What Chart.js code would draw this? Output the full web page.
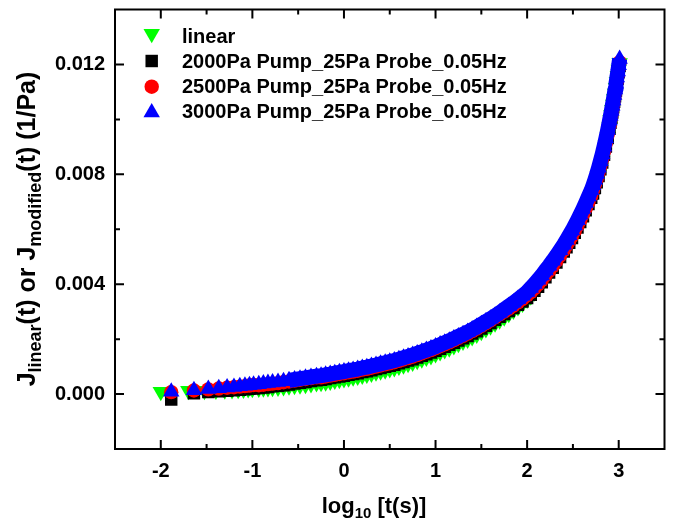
<!DOCTYPE html>
<html>
<head>
<meta charset="utf-8">
<script src="https://cdn.jsdelivr.net/npm/chart.js@4.4.0/dist/chart.umd.min.js"></script>
<style>
  html, body { margin: 0; padding: 0; background: #fff; }
</style>
</head>
<body>
<canvas id="creepChart" width="674" height="524"></canvas>
<script>
// log10(t) positions
const xModified = [-1.886, -1.638, -1.481, -1.367, -1.276, -1.201, -1.137, -1.081, -1.032, -0.987,
  -0.93, -0.88, -0.83, -0.78, -0.72, -0.66, -0.6, -0.54, -0.48, -0.42, -0.36, -0.3,
  -0.25, -0.2, -0.15, -0.1, -0.05, 0, 0.05, 0.1, 0.15, 0.2, 0.25, 0.3, 0.35, 0.4, 0.45, 0.5,
  0.55, 0.6, 0.65, 0.7, 0.75, 0.8, 0.85, 0.9, 0.95, 1.0, 1.05, 1.1, 1.15, 1.2, 1.25, 1.3,
  1.35, 1.4, 1.45, 1.5, 1.55, 1.6, 1.65, 1.7, 1.75, 1.8, 1.85, 1.9, 1.95, 2.0,
  2.04, 2.08, 2.12, 2.16, 2.2, 2.24, 2.28, 2.32, 2.36, 2.4,
  2.43, 2.46, 2.49, 2.52, 2.55, 2.58, 2.61, 2.64, 2.67, 2.7,
  2.72, 2.74, 2.76, 2.78, 2.8, 2.82, 2.84, 2.86, 2.88, 2.9,
  2.91, 2.92, 2.93, 2.94, 2.95, 2.96, 2.97, 2.98, 2.99, 3.0, 3.01];
const xLinear = [-2.0, -1.699, -1.523, -1.398, -1.301, -1.222, -1.155, -1.097, -1.046, -1.0,
  -0.93, -0.88, -0.83, -0.78, -0.72, -0.66, -0.6, -0.54, -0.48, -0.42, -0.36, -0.3,
  -0.25, -0.2, -0.15, -0.1, -0.05, 0, 0.05, 0.1, 0.15, 0.2, 0.25, 0.3, 0.35, 0.4, 0.45, 0.5,
  0.55, 0.6, 0.65, 0.7, 0.75, 0.8, 0.85, 0.9, 0.95, 1.0, 1.05, 1.1, 1.15, 1.2, 1.25, 1.3,
  1.35, 1.4, 1.45, 1.5, 1.55, 1.6, 1.65, 1.7, 1.75, 1.8, 1.85, 1.9, 1.95, 2.0,
  2.04, 2.08, 2.12, 2.16, 2.2, 2.24, 2.28, 2.32, 2.36, 2.4,
  2.43, 2.46, 2.49, 2.52, 2.55, 2.58, 2.61, 2.64, 2.67, 2.7,
  2.72, 2.74, 2.76, 2.78, 2.8, 2.82, 2.84, 2.86, 2.88, 2.9,
  2.91, 2.92, 2.93, 2.94, 2.95, 2.96, 2.97, 2.98, 2.99, 3.0, 3.01];

// compliance J(t), 1/Pa
const jLinear = [0.00008, 0.00012, 0.00012, 0.00013, 0.00014, 0.00015, 0.00016, 0.00017, 0.00018, 0.00019,
  0.00020, 0.00021, 0.00022, 0.00023, 0.00024, 0.00026, 0.00028, 0.00030, 0.00032, 0.00034, 0.00037, 0.00040,
  0.00041, 0.00043, 0.00046, 0.00049, 0.00052, 0.00055, 0.00058, 0.00061, 0.00064, 0.00068, 0.00071, 0.00075,
  0.00079, 0.00083, 0.00087, 0.00091, 0.00095, 0.00100, 0.00105, 0.00110, 0.00115, 0.00121, 0.00127, 0.00133,
  0.00139, 0.00146, 0.00153, 0.00160, 0.00167, 0.00175, 0.00183, 0.00191, 0.00199, 0.00208, 0.00217, 0.00227,
  0.00237, 0.00247, 0.00258, 0.00269, 0.00280, 0.00292, 0.00304, 0.00317, 0.00330, 0.00344,
  0.00356, 0.00371, 0.00386, 0.00402, 0.00420, 0.00437, 0.00455, 0.00474, 0.00494, 0.00514,
  0.00529, 0.00546, 0.00563, 0.00582, 0.00601, 0.00621, 0.00642, 0.00664, 0.00687, 0.00710,
  0.00735, 0.00755, 0.00776, 0.00799, 0.00823, 0.00848, 0.00876, 0.00906, 0.00937, 0.00971,
  0.00998, 0.01016, 0.01035, 0.01054, 0.01074, 0.01094, 0.01115, 0.01137, 0.01159, 0.01182, 0.01205];
const j2000 = [-0.00020, 0.00003, 0.00007, 0.00010, 0.00012, 0.00014, 0.00016, 0.00017, 0.00019, 0.00020,
  0.00022, 0.00024, 0.00026, 0.00028, 0.00030, 0.00032, 0.00035, 0.00038, 0.00041, 0.00044, 0.00047, 0.00050,
  0.00052, 0.00055, 0.00058, 0.00061, 0.00064, 0.00067, 0.00070, 0.00073, 0.00076, 0.00080, 0.00083, 0.00087,
  0.00091, 0.00095, 0.00099, 0.00103, 0.00107, 0.00112, 0.00117, 0.00122, 0.00127, 0.00133, 0.00139, 0.00145,
  0.00151, 0.00158, 0.00165, 0.00172, 0.00179, 0.00187, 0.00195, 0.00203, 0.00211, 0.00220, 0.00229, 0.00239,
  0.00249, 0.00259, 0.00270, 0.00281, 0.00291, 0.00302, 0.00313, 0.00325, 0.00337, 0.00350,
  0.00361, 0.00376, 0.00391, 0.00407, 0.00425, 0.00442, 0.00460, 0.00479, 0.00499, 0.00519,
  0.00534, 0.00551, 0.00568, 0.00587, 0.00606, 0.00626, 0.00647, 0.00669, 0.00692, 0.00715,
  0.00730, 0.00750, 0.00771, 0.00794, 0.00818, 0.00843, 0.00871, 0.00901, 0.00932, 0.00966,
  0.00988, 0.01006, 0.01025, 0.01044, 0.01064, 0.01084, 0.01105, 0.01127, 0.01149, 0.01172, 0.01195];
const j2500 = [0.00007, 0.00013, 0.00017, 0.00020, 0.00023, 0.00025, 0.00027, 0.00029, 0.00031, 0.00033,
  0.00032, 0.00034, 0.00036, 0.00038, 0.00040, 0.00043, 0.00046, 0.00049, 0.00052, 0.00055, 0.00058, 0.00061,
  0.00061, 0.00064, 0.00067, 0.00070, 0.00073, 0.00076, 0.00079, 0.00082, 0.00085, 0.00089, 0.00092, 0.00096,
  0.00100, 0.00104, 0.00108, 0.00112, 0.00116, 0.00121, 0.00126, 0.00131, 0.00136, 0.00142, 0.00148, 0.00154,
  0.00160, 0.00167, 0.00174, 0.00181, 0.00188, 0.00196, 0.00204, 0.00212, 0.00220, 0.00229, 0.00238, 0.00248,
  0.00258, 0.00268, 0.00279, 0.00290, 0.00300, 0.00311, 0.00322, 0.00334, 0.00346, 0.00360,
  0.00371, 0.00385, 0.00399, 0.00415, 0.00432, 0.00448, 0.00466, 0.00485, 0.00504, 0.00524,
  0.00541, 0.00558, 0.00575, 0.00594, 0.00613, 0.00633, 0.00654, 0.00676, 0.00699, 0.00722,
  0.00743, 0.00763, 0.00784, 0.00807, 0.00831, 0.00856, 0.00884, 0.00914, 0.00945, 0.00979,
  0.01001, 0.01019, 0.01038, 0.01057, 0.01077, 0.01097, 0.01118, 0.01140, 0.01162, 0.01185, 0.01208];
const j3000 = [0.00008, 0.00014, 0.00018, 0.00021, 0.00024, 0.00026, 0.00028, 0.00030, 0.00032, 0.00034,
  0.00036, 0.00038, 0.00040, 0.00042, 0.00044, 0.00047, 0.00050, 0.00053, 0.00056, 0.00059, 0.00062, 0.00065,
  0.00067, 0.00070, 0.00073, 0.00076, 0.00079, 0.00082, 0.00085, 0.00088, 0.00091, 0.00095, 0.00098, 0.00102,
  0.00106, 0.00110, 0.00114, 0.00118, 0.00122, 0.00127, 0.00132, 0.00137, 0.00142, 0.00148, 0.00154, 0.00160,
  0.00166, 0.00173, 0.00180, 0.00187, 0.00194, 0.00202, 0.00210, 0.00218, 0.00226, 0.00235, 0.00244, 0.00254,
  0.00264, 0.00274, 0.00285, 0.00296, 0.00308, 0.00320, 0.00332, 0.00345, 0.00358, 0.00372,
  0.00386, 0.00401, 0.00416, 0.00432, 0.00450, 0.00467, 0.00485, 0.00504, 0.00524, 0.00544,
  0.00561, 0.00578, 0.00595, 0.00614, 0.00633, 0.00653, 0.00674, 0.00696, 0.00719, 0.00742,
  0.00760, 0.00780, 0.00801, 0.00824, 0.00848, 0.00873, 0.00901, 0.00931, 0.00962, 0.00996,
  0.01013, 0.01031, 0.01050, 0.01069, 0.01089, 0.01109, 0.01130, 0.01152, 0.01174, 0.01197, 0.01220];

const seriesNames = ['linear', '2000Pa Pump_25Pa Probe_0.05Hz', '2500Pa Pump_25Pa Probe_0.05Hz', '3000Pa Pump_25Pa Probe_0.05Hz'];
const xTickValues = [-2, -1, 0, 1, 2, 3];
const xMinorValues = [-1.5, -0.5, 0.5, 1.5, 2.5];
const yTickValues = [0, 0.004, 0.008, 0.012];
const yMinorValues = [0.002, 0.006, 0.010];

const FONT = '"Liberation Sans", Arial, sans-serif';

function pts(xs, ys) {
  return xs.map((x, i) => ({ x: x, y: ys[i] }));
}

// marker shapes; fill = width of the same-colour band that closes gaps between dense markers
const markers = [
  { pointStyle: 'triangle', rotation: 180, radius: 9.5, color: '#00ff00', fill: 6 },
  { pointStyle: 'rect', rotation: 0, radius: 8.8, color: '#000000', fill: 8 },
  { pointStyle: 'circle', rotation: 0, radius: 7.2, color: '#ff0000', fill: 7 },
  { pointStyle: 'triangle', rotation: 0, radius: 9.5, color: '#0000ff', fill: 15 }
];
const sparseBelow = -0.62; // early points stay separate

// frame with inward major/minor ticks on all four sides
const frameTicks = {
  id: 'frameTicks',
  afterDraw(chart) {
    const { ctx, chartArea: a, scales } = chart;
    const sx = scales.x, sy = scales.y;
    ctx.save();
    ctx.strokeStyle = '#000';
    ctx.lineWidth = 2;
    ctx.strokeRect(a.left, a.top, a.right - a.left, a.bottom - a.top);
    ctx.beginPath();
    const tickX = (v, len) => {
      const px = sx.getPixelForValue(v);
      ctx.moveTo(px, a.bottom); ctx.lineTo(px, a.bottom - len);
      ctx.moveTo(px, a.top); ctx.lineTo(px, a.top + len);
    };
    const tickY = (v, len) => {
      const py = sy.getPixelForValue(v);
      ctx.moveTo(a.left, py); ctx.lineTo(a.left + len, py);
      ctx.moveTo(a.right, py); ctx.lineTo(a.right - len, py);
    };
    xTickValues.forEach(v => tickX(v, 9));
    xMinorValues.forEach(v => tickX(v, 5));
    yTickValues.forEach(v => tickY(v, 9));
    yMinorValues.forEach(v => tickY(v, 5));
    ctx.stroke();
    ctx.restore();
  }
};

// text with subscript pieces
function drawRich(ctx, parts, cx, baseY, size, subSize, subDrop) {
  let total = 0;
  parts.forEach(p => {
    ctx.font = 'bold ' + (p.sub ? subSize : size) + 'px ' + FONT;
    total += ctx.measureText(p.t).width;
  });
  let x = cx - total / 2;
  parts.forEach(p => {
    ctx.font = 'bold ' + (p.sub ? subSize : size) + 'px ' + FONT;
    ctx.fillText(p.t, x, baseY + (p.sub ? subDrop : 0));
    x += ctx.measureText(p.t).width;
  });
}

const titlesAndLegend = {
  id: 'titlesAndLegend',
  afterDraw(chart) {
    const ctx = chart.ctx;
    ctx.save();
    ctx.fillStyle = '#000';
    ctx.textAlign = 'left';
    ctx.textBaseline = 'alphabetic';

    // x axis title
    drawRich(ctx, [{ t: 'log' }, { t: '10', sub: true }, { t: ' [t(s)]' }], 374, 513, 22, 15, 5);

    // y axis title
    ctx.save();
    ctx.translate(35, 229);
    ctx.rotate(-Math.PI / 2);
    drawRich(ctx, [{ t: 'J' }, { t: 'linear', sub: true }, { t: '(t) or J' },
      { t: 'modified', sub: true }, { t: '(t) (1/Pa)' }], 0, 0, 25, 18, 6);
    ctx.restore();

    // legend
    const legendY = [33.8, 61, 86.7, 112.5];
    const textY = [42.5, 67.8, 93.1, 118.4];
    seriesNames.forEach((name, i) => {
      const m = markers[i];
      ctx.fillStyle = m.color;
      Chart.helpers.drawPoint(ctx, {
        pointStyle: m.pointStyle, rotation: m.rotation, radius: m.radius, borderWidth: 0
      }, 151.7, legendY[i]);
      ctx.fillStyle = '#000';
      ctx.font = 'bold 20px ' + FONT;
      ctx.fillText(name, 182, textY[i]);
    });
    ctx.restore();
  }
};

const seriesX = [xLinear, xModified, xModified, xModified];
const seriesY = [jLinear, j2000, j2500, j3000];
const drawOrder = [3, 2, 1, 0];

const datasets = seriesNames.map((name, i) => ({
  label: name,
  data: pts(seriesX[i], seriesY[i]),
  showLine: true,
  borderWidth: markers[i].fill,
  borderColor: markers[i].color,
  borderJoinStyle: 'round',
  borderCapStyle: 'butt',
  segment: {
    borderColor: c => c.p0.parsed.x < sparseBelow ? 'rgba(0,0,0,0)' : undefined
  },
  pointStyle: markers[i].pointStyle,
  rotation: markers[i].rotation,
  pointRadius: markers[i].radius,
  pointHoverRadius: markers[i].radius,
  pointBackgroundColor: markers[i].color,
  pointBorderWidth: 0,
  backgroundColor: markers[i].color,
  order: drawOrder[i]
}));

const ctx = document.getElementById('creepChart').getContext('2d');
new Chart(ctx, {
  type: 'scatter',
  data: { datasets: datasets },
  options: {
    responsive: false,
    animation: false,
    events: [],
    layout: { padding: { top: 7, right: 8, left: 0, bottom: 0 } },
    plugins: {
      legend: { display: false },
      tooltip: { enabled: false }
    },
    scales: {
      x: {
        type: 'linear',
        min: -2.5,
        max: 3.5,
        afterBuildTicks: s => { s.ticks = xTickValues.map(v => ({ value: v })); },
        afterFit: s => { s.height = 75; s.paddingLeft = 0; s.paddingRight = 0; },
        grid: { display: false, drawTicks: false },
        border: { display: false },
        ticks: {
          color: '#000',
          padding: 10,
          maxRotation: 0,
          autoSkip: false,
          font: { family: FONT, size: 20, weight: 'bold' },
          callback: v => String(v)
        }
      },
      y: {
        type: 'linear',
        min: -0.002,
        max: 0.014,
        afterBuildTicks: s => { s.ticks = yTickValues.map(v => ({ value: v })); },
        afterFit: s => { s.width = 115; s.paddingTop = 0; s.paddingBottom = 0; },
        grid: { display: false, drawTicks: false },
        border: { display: false },
        ticks: {
          color: '#000',
          padding: 10,
          autoSkip: false,
          font: { family: FONT, size: 20, weight: 'bold' },
          callback: v => v.toFixed(3)
        }
      }
    }
  },
  plugins: [frameTicks, titlesAndLegend]
});
</script>
</body>
</html>
